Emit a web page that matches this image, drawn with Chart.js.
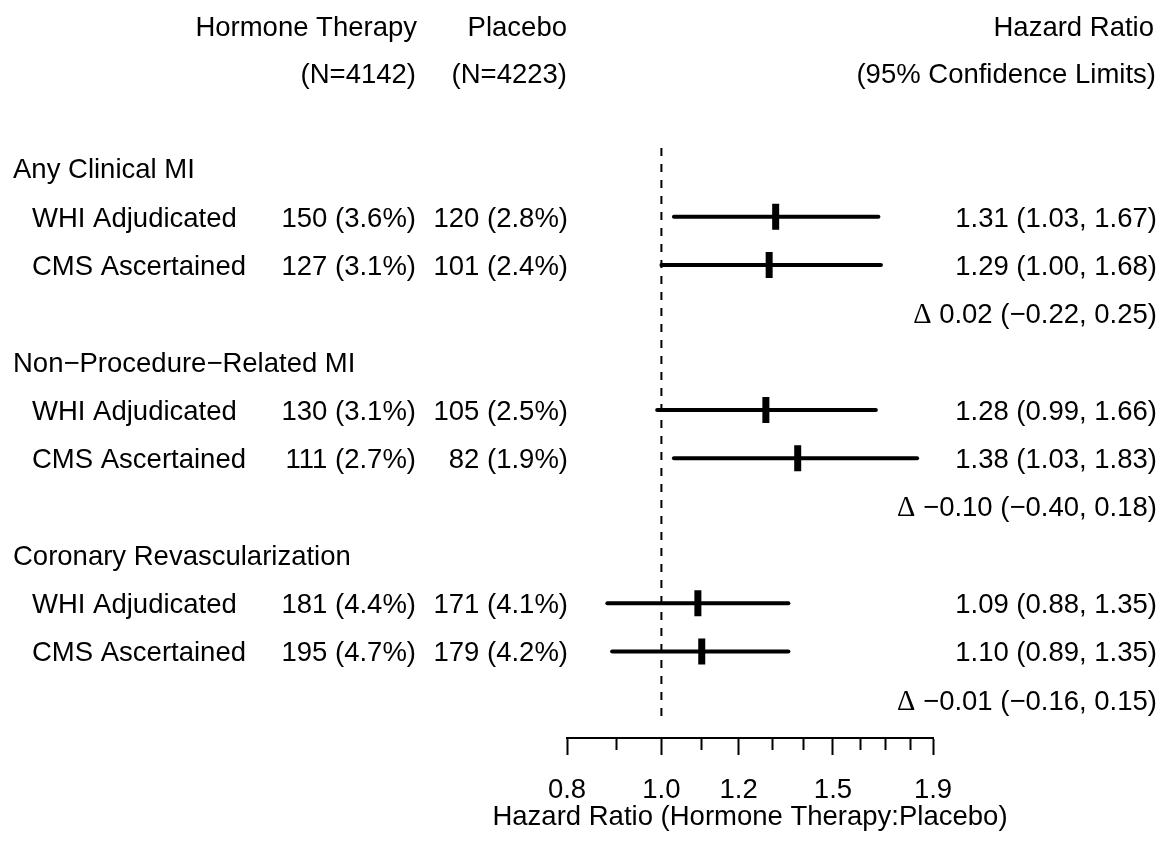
<!DOCTYPE html>
<html><head><meta charset="utf-8">
<script src="https://cdn.jsdelivr.net/npm/chart.js@4.4.1/dist/chart.umd.min.js"></script>
<style>html,body{margin:0;padding:0;background:#fff;overflow:hidden}canvas{display:block}</style>
</head><body>
<canvas id="c" width="1173" height="842"></canvas>
<script>
// ---------- data ----------
const groups = ['Any Clinical MI', 'Non\u2212Procedure\u2212Related MI', 'Coronary Revascularization'];
const sources = ['WHI Adjudicated', 'CMS Ascertained'];
const htCount = [150, 127, 130, 111, 181, 195];
const htPct   = [3.6, 3.1, 3.1, 2.7, 4.4, 4.7];
const plCount = [120, 101, 105, 82, 171, 179];
const plPct   = [2.8, 2.4, 2.5, 1.9, 4.1, 4.2];
const hr      = [1.31, 1.29, 1.28, 1.38, 1.09, 1.10];
const hrLo    = [1.03, 1.00, 0.99, 1.03, 0.88, 0.89];
const hrHi    = [1.67, 1.68, 1.66, 1.83, 1.35, 1.35];
const delta   = [0.02, -0.10, -0.01];
const deltaLo = [-0.22, -0.40, -0.16];
const deltaHi = [0.25, 0.18, 0.15];
const nHT = 4142, nPL = 4223;
const xTicks = [0.8, 0.9, 1.0, 1.1, 1.2, 1.3, 1.4, 1.5, 1.6, 1.7, 1.8, 1.9];
const xTickLabels = ['0.8', '1.0', '1.2', '1.5', '1.9'];
const xTitle = 'Hazard Ratio (Hormone Therapy:Placebo)';
const refValue = 1.0;

// ---------- helpers ----------
const FS = 27.5;
const FAMILY = '"Liberation Sans", Arial, Helvetica, sans-serif';
const SERIF = '"Liberation Serif", "Times New Roman", serif';
const M = '\u2212';
const fmt = (v, d) => (v < 0 ? M : '') + Math.abs(v).toFixed(d);
const rowOf = i => 4 * Math.floor(i / 2) + 1 + (i % 2);
const isLabelled = v => xTickLabels.includes(v.toFixed(1));

const datasets = [];
datasets.push({
  data: [{x: refValue, y: -0.42}, {x: refValue, y: 11.46}],
  showLine: true, borderColor: '#000', borderWidth: 2, borderDash: [8, 8],
  pointRadius: 0
});
hr.forEach((v, i) => {
  datasets.push({
    data: [{x: hrLo[i], y: rowOf(i)}, {x: hrHi[i], y: rowOf(i)}],
    showLine: true, borderColor: '#000', borderWidth: 4, borderCapStyle: 'round',
    pointRadius: 0
  });
});
datasets.push({
  data: hr.map((v, i) => ({x: v, y: rowOf(i)})),
  showLine: false, pointStyle: 'line', pointRotation: 90, pointRadius: 13,
  pointBorderWidth: 7, pointBorderColor: '#000', borderColor: '#000', pointBackgroundColor: '#000'
});

const textPlugin = {
  id: 'forestText',
  afterDraw(chart) {
    const ctx = chart.ctx;
    const ys = chart.scales.y;
    const xs = chart.scales.x;
    const font = FS + 'px ' + FAMILY;
    ctx.save();
    ctx.fillStyle = '#000';
    ctx.textBaseline = 'alphabetic';
    const put = (txt, x, row, align) => {
      ctx.font = font;
      ctx.textAlign = align;
      ctx.fillText(txt, x, ys.getPixelForValue(row) + FS * 0.36);
    };
    // headers
    put('Hormone Therapy', 417, -2.94, 'right');
    put('Placebo', 567, -2.94, 'right');
    put('Hazard Ratio', 1154, -2.94, 'right');
    put('(N=' + nHT + ')', 416, -1.98, 'right');
    put('(N=' + nPL + ')', 567, -1.98, 'right');
    put('(95% Confidence Limits)', 1156, -1.98, 'right');
    groups.forEach((g, gi) => {
      put(g, 13, 4 * gi, 'left');
      const rest = ' ' + fmt(delta[gi], 2) + ' (' + fmt(deltaLo[gi], 2) + ', ' + fmt(deltaHi[gi], 2) + ')';
      put(rest, 1157, 4 * gi + 3, 'right');
      ctx.font = font;
      const w = ctx.measureText(rest).width;
      ctx.font = (FS + 1) + 'px ' + SERIF;
      ctx.textAlign = 'right';
      ctx.fillText('\u0394', 1157 - w, ys.getPixelForValue(4 * gi + 3) + FS * 0.36);
    });
    hr.forEach((v, i) => {
      const r = rowOf(i);
      put(sources[i % 2], 32, r, 'left');
      put(htCount[i] + ' (' + htPct[i].toFixed(1) + '%)', 416, r, 'right');
      put(plCount[i] + ' (' + plPct[i].toFixed(1) + '%)', 568, r, 'right');
      put(v.toFixed(2) + ' (' + hrLo[i].toFixed(2) + ', ' + hrHi[i].toFixed(2) + ')', 1157, r, 'right');
    });
    // x-axis title (drawn without width compression)
    ctx.font = font;
    ctx.textAlign = 'center';
    ctx.fillText(xTitle, (xs.left + xs.right) / 2, xs.bottom - 17);
    ctx.restore();
  }
};

new Chart(document.getElementById('c'), {
  type: 'scatter',
  data: {datasets},
  options: {
    responsive: false, animation: false, devicePixelRatio: 1,
    layout: {padding: {left: 567, right: 240, top: 144.25, bottom: 0}},
    plugins: {legend: {display: false}, tooltip: {enabled: false}, title: {display: false}},
    scales: {
      x: {
        type: 'logarithmic', min: 0.8, max: 1.9,
        afterBuildTicks: s => { s.ticks = xTicks.map(v => ({value: v})); },
        afterFit: s => { s.height = 104; },
        ticks: {
          autoSkip: false, maxRotation: 0, minRotation: 0, padding: 19, color: '#000',
          font: {family: FAMILY, size: FS},
          callback: v => isLabelled(v) ? v.toFixed(1) : ''
        },
        grid: {
          drawOnChartArea: false, drawTicks: true, tickLength: 17, tickWidth: 2, tickColor: '#000',
          tickBorderDash: c => (c.tick && isLabelled(c.tick.value)) ? [] : [11, 100]
        },
        border: {display: true, color: '#000', width: 2},
        title: {display: false}
      },
      y: {type: 'linear', display: false, min: -0.5, max: 11.79, reverse: true}
    }
  },
  plugins: [textPlugin]
});
</script>
</body></html>
